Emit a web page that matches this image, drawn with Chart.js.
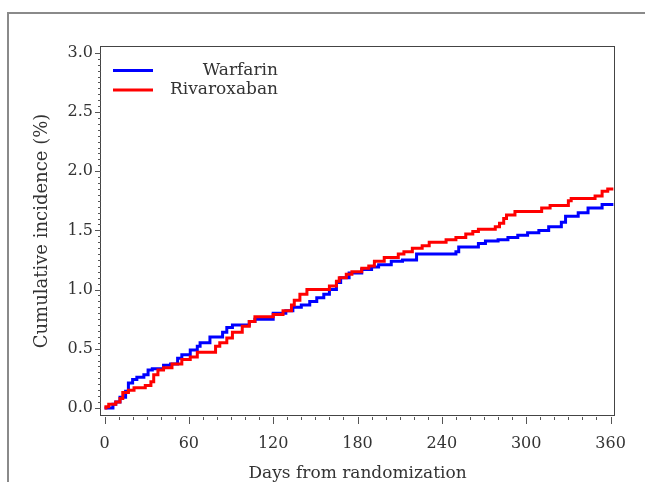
<!DOCTYPE html>
<html>
<head>
<meta charset="utf-8">
<script src="https://cdn.jsdelivr.net/npm/chart.js@4/dist/chart.umd.min.js"></script>
<style>
  html, body { margin: 0; padding: 0; background: #fff; }
  #c { display: block; }
</style>
</head>
<body>
<canvas id="c" width="645" height="482"></canvas>
<script>
// ---- Data ----
const seriesLabels = ['Warfarin', 'Rivaroxaban'];
const seriesColors = ['#0000ff', '#ff0000'];

const warfarinDays = [0,6,8,11,15,17,20,23,28,31,34,42,47,52,55,61,66,68,75,84,87,91,103,107,120,129,134,140,146,151,156,160,165,168,174,183,190,195,204,212,222,250,252,266,271,280,287,294,301,309,316,325,328,337,344,354,362];
const warfarinInc  = [0,0.03,0.05,0.09,0.14,0.21,0.24,0.26,0.28,0.32,0.33,0.36,0.37,0.42,0.45,0.49,0.52,0.55,0.60,0.64,0.68,0.70,0.73,0.75,0.80,0.82,0.85,0.87,0.90,0.93,0.96,1.00,1.06,1.10,1.14,1.17,1.19,1.21,1.24,1.25,1.30,1.32,1.36,1.39,1.41,1.42,1.44,1.46,1.48,1.50,1.53,1.57,1.62,1.65,1.69,1.72,1.72];

const rivaroxabanDays = [0,1,3,8,11,13,17,21,29,33,35,38,42,48,55,61,66,79,82,87,91,98,103,107,120,127,133,135,139,144,160,165,167,172,176,183,188,192,199,209,213,219,226,231,243,250,257,262,266,278,281,284,286,292,311,317,330,332,349,354,358,362];
const rivaroxabanInc  = [0,0.01,0.03,0.05,0.08,0.13,0.15,0.17,0.19,0.22,0.28,0.32,0.34,0.37,0.41,0.43,0.47,0.52,0.55,0.59,0.64,0.69,0.73,0.77,0.79,0.82,0.87,0.91,0.96,1.00,1.03,1.07,1.10,1.13,1.15,1.18,1.20,1.24,1.27,1.30,1.32,1.35,1.37,1.40,1.42,1.44,1.47,1.49,1.51,1.53,1.56,1.60,1.63,1.66,1.69,1.71,1.75,1.77,1.79,1.83,1.85,1.85];

const xTicks = [0, 60, 120, 180, 240, 300, 360];
const yTicks = [0.0, 0.5, 1.0, 1.5, 2.0, 2.5, 3.0];
const xMinorStep = 10;
const yMinorStep = 0.05;
const xTitle = 'Days from randomization';
const yTitle = 'Cumulative incidence (%)';

const FONT = "'DejaVu Serif', 'Liberation Serif', serif";
const TEXT_COLOR = '#333333';

function toPoints(xs, ys) { return xs.map((x, i) => ({ x: x, y: ys[i] })); }

const framePlugin = {
  id: 'frame',
  beforeDraw(chart) {
    const ctx = chart.ctx;
    ctx.save();
    ctx.fillStyle = '#ffffff';
    ctx.fillRect(0, 0, chart.width, chart.height);
    ctx.strokeStyle = '#8a8a8a';
    ctx.lineWidth = 2;
    ctx.beginPath();
    ctx.moveTo(8, chart.height + 5);
    ctx.lineTo(8, 13);
    ctx.lineTo(chart.width + 5, 13);
    ctx.stroke();
    ctx.restore();
  },
  afterDraw(chart) {
    const ctx = chart.ctx;
    const a = chart.chartArea;
    const xs = chart.scales.x, ys = chart.scales.y;
    ctx.save();
    // plot box
    ctx.strokeStyle = '#444444';
    ctx.lineWidth = 1;
    ctx.strokeRect(Math.round(a.left) - 0.5, Math.round(a.top) - 0.5,
                   Math.round(a.right - a.left) + 1, Math.round(a.bottom - a.top) + 1);
    // x ticks (hanging below the box)
    ctx.strokeStyle = '#555555';
    ctx.beginPath();
    const x0 = xTicks[0], x1 = xTicks[xTicks.length - 1];
    for (let v = x0; v <= x1 + 1e-9; v += xMinorStep) {
      const px = Math.round(xs.getPixelForValue(v)) + 0.5;
      const major = xTicks.some(t => Math.abs(t - v) < 1e-6);
      ctx.moveTo(px, a.bottom + 2);
      ctx.lineTo(px, a.bottom + (major ? 9 : 5));
    }
    // y ticks (to the left of the box)
    const y0 = yTicks[0], y1 = yTicks[yTicks.length - 1];
    const n = Math.round((y1 - y0) / yMinorStep);
    for (let i = 0; i <= n; i++) {
      const v = y0 + i * yMinorStep;
      const py = Math.round(ys.getPixelForValue(v)) + 0.5;
      const major = yTicks.some(t => Math.abs(t - v) < 1e-6);
      ctx.moveTo(a.left, py);
      ctx.lineTo(a.left - (major ? 6 : 3), py);
    }
    ctx.stroke();
    // legend
    ctx.font = '17px ' + FONT;
    ctx.textBaseline = 'middle';
    ctx.textAlign = 'right';
    chart.data.datasets.forEach((ds, i) => {
      const ly = a.top + 23.5 + i * 19.5;
      ctx.strokeStyle = ds.borderColor;
      ctx.lineWidth = 3;
      ctx.beginPath();
      ctx.moveTo(a.left + 12, ly);
      ctx.lineTo(a.left + 52, ly);
      ctx.stroke();
      ctx.fillStyle = TEXT_COLOR;
      ctx.fillText(ds.label, a.left + 177, ly);
    });
    ctx.restore();
  }
};

new Chart(document.getElementById('c'), {
  type: 'line',
  data: {
    datasets: [
      { label: seriesLabels[0], data: toPoints(warfarinDays, warfarinInc), borderColor: seriesColors[0],
        backgroundColor: seriesColors[0], borderWidth: 3, stepped: true, pointRadius: 0, fill: false, order: 1 },
      { label: seriesLabels[1], data: toPoints(rivaroxabanDays, rivaroxabanInc), borderColor: seriesColors[1],
        backgroundColor: seriesColors[1], borderWidth: 3, stepped: true, pointRadius: 0, fill: false, order: 0 }
    ]
  },
  options: {
    responsive: false,
    animation: false,
    devicePixelRatio: 1,
    layout: { padding: { left: 0, top: 47, right: 28, bottom: 0 } },
    plugins: { legend: { display: false }, tooltip: { enabled: false } },
    scales: {
      x: {
        type: 'linear', min: -2.5, max: 362.5,
        afterBuildTicks: (s) => { s.ticks = xTicks.map(v => ({ value: v })); },
        afterFit: (s) => { s.height = 67; },
        grid: { display: false, drawTicks: false },
        border: { display: false },
        ticks: { padding: 19, maxRotation: 0, autoSkip: false, color: TEXT_COLOR,
                 font: { family: FONT, size: 16 }, callback: (v) => String(v) },
        title: { display: true, text: xTitle, color: TEXT_COLOR,
                 font: { family: FONT, size: 17, lineHeight: 1 }, padding: { top: 0, bottom: 0 } }
      },
      y: {
        type: 'linear', min: -0.06, max: 3.05,
        afterBuildTicks: (s) => { s.ticks = yTicks.map(v => ({ value: v })); },
        afterFit: (s) => { s.width = 101; },
        grid: { display: false, drawTicks: false },
        border: { display: false },
        ticks: { padding: 8, autoSkip: false, color: TEXT_COLOR,
                 font: { family: FONT, size: 16 }, callback: (v) => Number(v).toFixed(1) },
        title: { display: true, text: yTitle, color: TEXT_COLOR,
                 font: { family: FONT, size: 18, lineHeight: 1 }, padding: { top: 33, bottom: 0 } }
      }
    }
  },
  plugins: [framePlugin]
});
</script>
</body>
</html>
